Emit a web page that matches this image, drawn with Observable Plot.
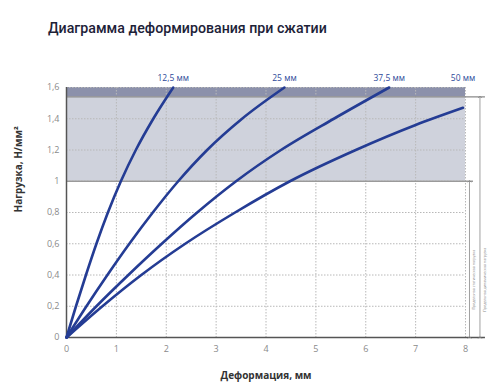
<!DOCTYPE html>
<html><head><meta charset="utf-8">
<script src="https://cdn.jsdelivr.net/npm/d3@7"></script>
<script src="https://cdn.jsdelivr.net/npm/@observablehq/plot@0.6"></script>
<style>
body{margin:0;background:#fff;font-family:"Open Sans",sans-serif;}
#title{height:50px;box-sizing:border-box;padding:19px 0 0 48px;font-family:Roboto,sans-serif;font-size:14.2px;font-weight:500;line-height:18px;color:#1d2238;white-space:nowrap;}
</style></head><body>
<div id="title">Диаграмма деформирования при сжатии</div>
<div id="chart"></div>
<script>
// Series names
const seriesNames = ["12,5 мм", "25 мм", "37,5 мм", "50 мм"];
// Deformation (mm) and load (N/mm²) points, per series
const def125 = [0, 0.19, 0.39, 0.60, 0.83, 1.09, 1.39, 1.74, 2.14];
const load125 = [0, 0.2, 0.4, 0.6, 0.8, 1.0, 1.2, 1.4, 1.6];
const def25 = [0, 0.40, 0.82, 1.26, 1.73, 2.24, 2.82, 3.52, 4.37];
const load25 = [0, 0.2, 0.4, 0.6, 0.8, 1.0, 1.2, 1.4, 1.6];
const def375 = [0, 0.60, 1.24, 1.91, 2.62, 3.40, 4.30, 5.36, 6.47];
const load375 = [0, 0.2, 0.4, 0.6, 0.8, 1.0, 1.2, 1.4, 1.6];
const def50 = [0, 0.72, 1.50, 2.38, 3.38, 4.48, 5.80, 7.00, 7.95];
const load50 = [0, 0.2, 0.4, 0.6, 0.8, 1.0, 1.2, 1.36, 1.47];
// Limits
const staticLimit = 1.0;
const dynamicLimit = 1.54;
const yMax = 1.6;
const xMax = 8;
// Ticks
const xTicks = [0, 1, 2, 3, 4, 5, 6, 7, 8];
const xTickLabels = ["0", "1", "2", "3", "4", "5", "6", "7", "8"];
const yTicks = [0, 0.2, 0.4, 0.6, 0.8, 1, 1.2, 1.4, 1.6];
const yTickLabels = ["0", "0,2", "0,4", "0,6", "0,8", "1", "1,2", "1,4", "1,6"];
// Texts
const xLabel = "Деформация, мм";
const yLabel = "Нагрузка, Н/мм²";
const staticText = "Предельная статическая нагрузка";
const dynamicText = "Предельная динамическая нагрузка";

const defs = [def125, def25, def375, def50];
const loadsArr = [load125, load25, load375, load50];
const pts = [];
const ends = [];
seriesNames.forEach((s, k) => {
  defs[k].forEach((d, i) => pts.push({series: s, x: d, y: loadsArr[k][i]}));
  ends.push({series: s, x: defs[k][defs[k].length - 1]});
});

const blue = "#243c94";
const gray = "#8a8a8a";
const chart = Plot.plot({
  width: 500,
  height: 342,
  marginTop: 37,
  marginBottom: 55,
  marginLeft: 66,
  marginRight: 35,
  style: {fontFamily: "'Open Sans', sans-serif", background: "#fff"},
  x: {domain: [0, xMax]},
  y: {domain: [0, yMax]},
  marks: [
    Plot.rect([{y1: staticLimit, y2: dynamicLimit}], {x1: 0, x2: xMax, y1: "y1", y2: "y2", fill: "#cfd2dc"}),
    Plot.rect([{y1: dynamicLimit, y2: yMax}], {x1: 0, x2: xMax, y1: "y1", y2: "y2", fill: "#8c91ab"}),
    Plot.gridX(xTicks.slice(1), {stroke: "#b8b8b8", strokeOpacity: 1, strokeDasharray: "1.5,1.5"}),
    Plot.gridY(yTicks.slice(1), {stroke: "#b8b8b8", strokeOpacity: 1, strokeDasharray: "1.5,1.5"}),
    Plot.ruleY([staticLimit], {x1: 0, x2: xMax + 0.16, stroke: "#9a9a9a", strokeWidth: 1.5}),
    Plot.ruleY([dynamicLimit], {x1: 0, x2: xMax + 0.4, stroke: "#8a8a8a", strokeWidth: 1.2}),
    Plot.ruleY([0], {x1: 0, x2: xMax + 0.4, stroke: "#555", strokeWidth: 1.5}),
    Plot.ruleX([0], {y1: 0, y2: yMax, stroke: "#555", strokeWidth: 1.5}),
    Plot.link([{y1: 0, y2: staticLimit}], {x1: xMax + 0.08, x2: xMax + 0.08, y1: "y1", y2: "y2", stroke: "#888", strokeWidth: 0.8, markerStart: "arrow", markerEnd: "arrow"}),
    Plot.link([{y1: 0, y2: dynamicLimit}], {x1: xMax + 0.29, x2: xMax + 0.29, y1: "y1", y2: "y2", stroke: "#888", strokeWidth: 0.8, markerStart: "arrow", markerEnd: "arrow"}),
    Plot.text([staticText], {x: xMax + 0.17, y: 0.37, text: d => d, rotate: -90, fontSize: 3.6, fill: "#888"}),
    Plot.text([dynamicText], {x: xMax + 0.38, y: 0.37, text: d => d, rotate: -90, fontSize: 3.6, fill: "#888"}),
    Plot.line(pts, {x: "x", y: "y", z: "series", stroke: blue, strokeWidth: 2.6, curve: "monotone-x"}),
    Plot.text(ends, {x: "x", frameAnchor: "top", dy: -13, text: "series", fill: "#2d4a9a", fontSize: 8.5}),
    Plot.axisX(xTicks, {tickSize: 0, tickPadding: 8, fontSize: 9, fill: gray, tickFormat: d => xTickLabels[xTicks.indexOf(d)], label: null}),
    Plot.axisY(yTicks, {tickSize: 0, tickPadding: 7, fontSize: 9, fill: gray, tickFormat: d => yTickLabels[yTicks.indexOf(d)], label: null}),
    Plot.text([yLabel], {frameAnchor: "left", dx: -48, rotate: -90, text: d => d, fontSize: 10, fontWeight: "bold", fill: "#333"}),
    Plot.text([xLabel], {frameAnchor: "bottom", dy: 41, text: d => d, fontSize: 10, fontWeight: "bold", fill: "#333"})
  ]
});
document.getElementById("chart").appendChild(chart);
</script>
</body></html>
